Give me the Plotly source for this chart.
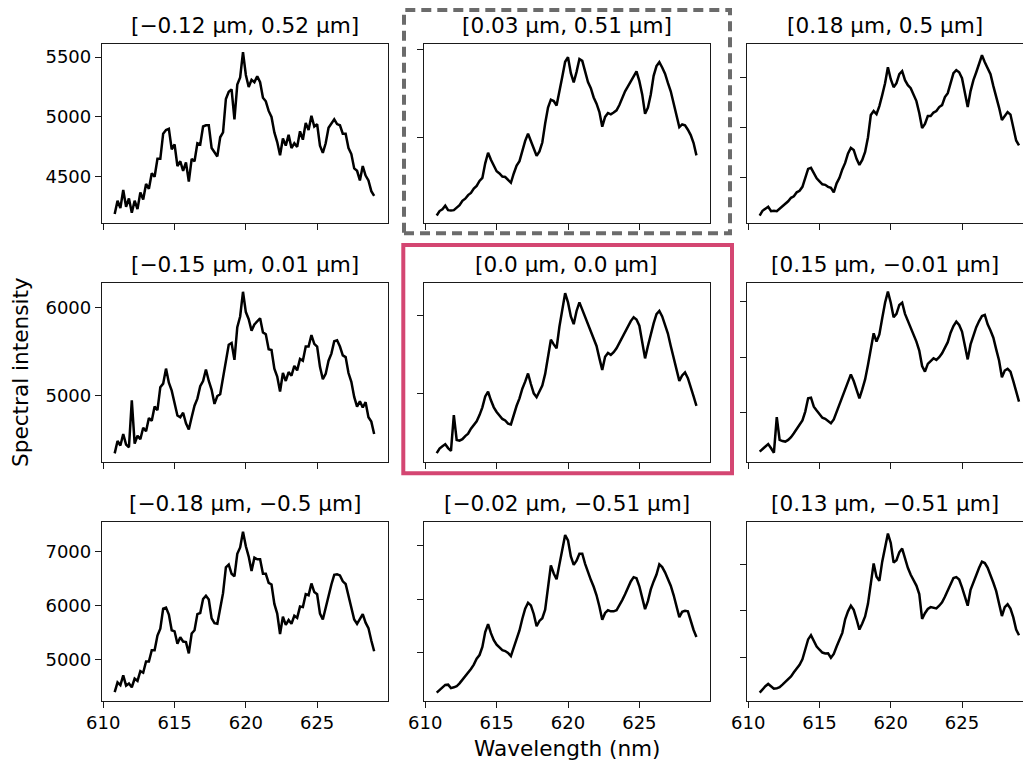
import plotly.graph_objects as go

# ---------------- data ----------------
WAVELENGTH = [
    610.8,
    611.0, 611.2, 611.4, 611.6, 611.8,
    612.0, 612.2, 612.4, 612.6, 612.8,
    613.0, 613.2, 613.4, 613.6, 613.8,
    614.0, 614.2, 614.4, 614.6, 614.8,
    615.0, 615.2, 615.4, 615.6, 615.8,
    616.0, 616.2, 616.4, 616.6, 616.8,
    617.0, 617.2, 617.4, 617.6, 617.8,
    618.0, 618.2, 618.4, 618.6, 618.8,
    619.0, 619.2, 619.4, 619.6, 619.8,
    620.0, 620.2, 620.4, 620.6, 620.8,
    621.0, 621.2, 621.4, 621.6, 621.8,
    622.0, 622.2, 622.4, 622.6, 622.8,
    623.0, 623.2, 623.4, 623.6, 623.8,
    624.0, 624.2, 624.4, 624.6, 624.8,
    625.0, 625.2, 625.4, 625.6, 625.8,
    626.0, 626.2, 626.4, 626.6, 626.8,
    627.0, 627.2, 627.4, 627.6, 627.8,
    628.0, 628.2, 628.4, 628.6, 628.8,
    629.0,
]

SPEC_R1C1 = [
    4190,
    4300, 4240, 4390, 4250, 4320,
    4200, 4300, 4230, 4370, 4310,
    4440, 4400, 4530, 4500, 4650,
    4650, 4860, 4890, 4900, 4730,
    4770, 4590, 4630, 4550, 4620,
    4460, 4650, 4630, 4780, 4770,
    4920, 4930, 4930, 4740, 4710,
    4670, 4830, 4870, 5150, 5210,
    5230, 4980, 5270, 5330, 5540,
    5350, 5250, 5310, 5290, 5340,
    5290, 5160, 5130, 5050, 5000,
    4870, 4790, 4680, 4820, 4760,
    4850, 4740, 4780, 4750, 4880,
    4810, 4950, 4890, 5010, 4920,
    4940, 4760, 4700, 4780, 4910,
    4950, 4980, 4940, 4930, 4860,
    4860, 4740, 4690, 4570, 4550,
    4470, 4590, 4510, 4470, 4380,
    4340,
]

SPEC_R1C2 = [
    4120,
    4170, 4190, 4230, 4180, 4175,
    4180, 4205, 4235, 4285, 4310,
    4350, 4375, 4425, 4455, 4510,
    4545, 4710, 4830, 4750, 4680,
    4620, 4595, 4560, 4555, 4525,
    4490, 4595, 4685, 4735, 4855,
    4965, 5045, 4955, 4860, 4795,
    4845, 4945, 5160, 5340, 5430,
    5415, 5365, 5550, 5690, 5860,
    5910, 5730, 5625, 5745, 5890,
    5870, 5735, 5630, 5560, 5455,
    5385, 5290, 5125, 5235, 5280,
    5265, 5285, 5310, 5370, 5460,
    5525, 5580, 5640, 5690, 5750,
    5640, 5490, 5270, 5340, 5490,
    5700, 5810, 5855, 5795, 5725,
    5620, 5525, 5390, 5265, 5120,
    5150, 5140, 5090, 5030, 4940,
    4800,
]

SPEC_R1C3 = [
    4615,
    4665, 4685, 4705, 4660, 4665,
    4660, 4685, 4705, 4740, 4760,
    4795, 4810, 4850, 4865, 4905,
    4995, 5085, 5095, 5045, 4990,
    4960, 4930, 4925, 4905, 4895,
    4850, 4940, 4995, 5080, 5145,
    5240, 5295, 5275, 5185, 5125,
    5175, 5255, 5400, 5625, 5665,
    5635, 5715, 5825, 5945, 6105,
    5985, 5905, 5945, 6035, 6065,
    5975, 5925, 5895, 5825, 5765,
    5645, 5495, 5535, 5615, 5615,
    5650, 5665, 5705, 5725, 5805,
    5845, 5955, 6045, 6075, 6055,
    5995, 5855, 5705, 5865, 5975,
    6055, 6130, 6225, 6155, 6095,
    6035, 5915, 5815, 5700, 5575,
    5615, 5655, 5630, 5515, 5370,
    5320,
]

SPEC_R2C1 = [
    4350,
    4490, 4440, 4570, 4450, 4420,
    4950, 4460, 4550, 4510, 4640,
    4600, 4750, 4720, 4880, 4840,
    5100, 5140, 5310, 5150, 5060,
    4920, 4780, 4760, 4810, 4690,
    4620, 4760, 4890, 4970, 5110,
    5170, 5300, 5170, 5070, 4910,
    5000, 5020, 5220, 5390, 5580,
    5600, 5410, 5780, 5900, 6180,
    5950, 5870, 5740, 5810, 5840,
    5880, 5720, 5700, 5530, 5520,
    5310, 5220, 5050, 5260, 5170,
    5270, 5230, 5340, 5290, 5420,
    5400, 5560, 5560, 5690, 5590,
    5560, 5330, 5190, 5250, 5400,
    5480, 5620, 5630, 5560, 5460,
    5440, 5260, 5160, 4990, 4880,
    4940, 4870, 4930, 4760, 4710,
    4570,
]

SPEC_R2C2 = [
    4230,
    4290, 4320, 4345, 4295, 4260,
    4720, 4400, 4390, 4410, 4450,
    4480, 4545, 4600, 4640, 4720,
    4820, 4960, 5020, 4910, 4820,
    4760, 4710, 4670, 4650, 4610,
    4600, 4730, 4840, 4935, 5060,
    5150, 5255, 5120, 5000, 4950,
    5020, 5100, 5250, 5450, 5690,
    5630, 5580, 5860, 6050, 6290,
    6170, 5990, 5890, 6060, 6170,
    6080, 5970, 5880, 5790, 5710,
    5610, 5450, 5300, 5470, 5520,
    5495, 5530, 5580, 5650, 5730,
    5790, 5860, 5930, 5980, 5950,
    5870, 5670, 5450, 5610, 5770,
    5900, 6020, 6060, 5990, 5880,
    5770, 5610, 5450, 5310, 5160,
    5230, 5270, 5195, 5090, 4960,
    4840,
]

SPEC_R2C3 = [
    4650,
    4675, 4700, 4718, 4680, 4640,
    4960, 4755, 4745, 4740, 4755,
    4780, 4815, 4850, 4885, 4930,
    5010, 5130, 5135, 5054, 5020,
    4985, 4955, 4945, 4925, 4905,
    4940, 5010, 5075, 5140, 5210,
    5290, 5345, 5285, 5200, 5130,
    5210, 5300, 5430, 5570, 5715,
    5640, 5705, 5850, 5990, 6090,
    5990, 5860, 5890, 5970, 5990,
    5890, 5830, 5770, 5710, 5640,
    5560, 5420, 5370, 5440, 5465,
    5490, 5475, 5500, 5535, 5580,
    5635, 5720, 5780, 5820, 5790,
    5730, 5595, 5480, 5615, 5700,
    5770, 5825, 5870, 5880, 5795,
    5740, 5675, 5570, 5470, 5320,
    5380, 5395, 5370, 5285, 5180,
    5100,
]

SPEC_R3C1 = [
    4390,
    4570, 4520, 4700, 4510, 4550,
    4480, 4640, 4600, 4780, 4750,
    4960, 4960, 5170, 5170, 5440,
    5570, 5940, 5960, 5830, 5540,
    5520, 5290, 5410, 5330, 5320,
    5110, 5480, 5540, 5840, 5860,
    6120, 6180, 6110, 5760, 5670,
    5660, 5960, 6230, 6710, 6760,
    6590, 6540, 6960, 7080, 7370,
    7100, 6910, 6640, 6890, 6860,
    6860, 6590, 6590, 6420, 6390,
    6030, 5850, 5470, 5790, 5640,
    5730, 5660, 5810, 5770, 5980,
    5970, 6210, 6190, 6410, 6250,
    6210, 5850, 5740, 5960, 6220,
    6390, 6570, 6580, 6560, 6450,
    6400, 6170, 6000, 5740, 5660,
    5740, 5840, 5680, 5580, 5350,
    5150,
]

SPEC_R3C2 = [
    4245,
    4300, 4335, 4390, 4395, 4330,
    4345, 4365, 4420, 4485, 4555,
    4620, 4690, 4770, 4880, 4950,
    5100, 5380, 5530, 5360, 5230,
    5145, 5090, 5040, 5025, 4990,
    4930, 5090, 5240, 5410, 5630,
    5820, 5930, 5880, 5720, 5490,
    5590, 5640, 5800, 6250, 6630,
    6480, 6370, 6650, 6900, 7200,
    7100, 6800, 6640, 6720, 6850,
    6850, 6660, 6490, 6360, 6230,
    6070, 5860, 5610, 5740, 5790,
    5770, 5770, 5790, 5880, 5980,
    6090, 6210, 6330, 6410, 6390,
    6240, 6040, 5810, 5960, 6180,
    6330, 6460, 6650, 6600, 6500,
    6390, 6250, 6075, 5880, 5660,
    5760, 5780, 5770, 5590, 5420,
    5290,
]

SPEC_R3C3 = [
    4255,
    4330, 4390, 4440, 4390, 4340,
    4345, 4370, 4425, 4480, 4525,
    4600, 4690, 4770, 4850, 4965,
    5180, 5390, 5480, 5340, 5240,
    5170, 5110, 5090, 5095, 5000,
    5080, 5240, 5380, 5530, 5820,
    5990, 6110, 6020, 5820, 5600,
    5730, 5880, 6150, 6640, 7010,
    6730, 6640, 7050, 7350, 7650,
    7450, 7030, 7080, 7250, 7330,
    7110, 6920, 6770, 6660, 6540,
    6360, 5830, 5950, 6040, 6080,
    6070, 6053, 6110, 6180, 6300,
    6440, 6560, 6700, 6720, 6670,
    6500, 6300, 6110, 6450, 6620,
    6760, 6920, 7050, 7020, 6920,
    6770, 6600, 6420, 6180, 5890,
    6080, 6140, 6050, 5860, 5600,
    5480,
]

TITLES = [
    "[\u22120.12 \u00b5m, 0.52 \u00b5m]", "[0.03 \u00b5m, 0.51 \u00b5m]", "[0.18 \u00b5m, 0.5 \u00b5m]",
    "[\u22120.15 \u00b5m, 0.01 \u00b5m]", "[0.0 \u00b5m, 0.0 \u00b5m]", "[0.15 \u00b5m, \u22120.01 \u00b5m]",
    "[\u22120.18 \u00b5m, \u22120.5 \u00b5m]", "[\u22120.02 \u00b5m, \u22120.51 \u00b5m]", "[0.13 \u00b5m, \u22120.51 \u00b5m]",
]

X_TICKS = [610, 615, 620, 625]

Y_TICKS = [
    [4500, 5000, 5500], [5000, 6000], [5000, 5500, 6000],
    [5000, 6000], [5000, 6000], [5000, 5500, 6000],
    [5000, 6000, 7000], [5000, 6000, 7000], [5000, 6000, 7000],
]

Y_RANGES = [
    [4117, 5606], [4038, 6057], [4545, 6335],
    [4256, 6276], [4120, 6416], [4559, 6165],
    [4230, 7558], [4094, 7450], [4082, 7903],
]

SPECTRA = [SPEC_R1C1, SPEC_R1C2, SPEC_R1C3,
           SPEC_R2C1, SPEC_R2C2, SPEC_R2C3,
           SPEC_R3C1, SPEC_R3C2, SPEC_R3C3]

# ---------------- layout geometry (pixels of a 1023 x 766 page) ----------------
W, H = 1023, 766
COL_PX = [(102.0, 387.7), (424.0, 710.0), (746.7, 1023.0)]
ROW_PX = [(44.3, 222.7), (283.3, 461.7), (521.7, 700.7)]
X_RANGES = [[609.91, 629.95], [609.91, 629.95], [609.89, 629.28]]

FONT = "DejaVu Sans"
TICK_FS = 18
TITLE_FS = 21.6
AX_COLOR = "#1a1a1a"

fig = go.Figure()
layout = dict(
    template="none",
    width=W, height=H,
    margin=dict(l=0, r=0, t=0, b=0, pad=0),
    paper_bgcolor="white", plot_bgcolor="white",
    showlegend=False,
    font=dict(family=FONT, size=TICK_FS, color="black"),
)
annotations = []

for k in range(9):
    r, c = divmod(k, 3)
    n = k + 1
    xa = "x" if n == 1 else f"x{n}"
    ya = "y" if n == 1 else f"y{n}"
    fig.add_trace(go.Scatter(
        x=WAVELENGTH, y=SPECTRA[k], mode="lines",
        line=dict(color="black", width=2.5),
        xaxis=xa, yaxis=ya, hoverinfo="skip",
    ))
    x0, x1 = COL_PX[c]
    top, bot = ROW_PX[r]
    xdom = [x0 / W, x1 / W]
    ydom = [1 - bot / H, 1 - top / H]
    layout["xaxis" if n == 1 else f"xaxis{n}"] = dict(
        domain=xdom, anchor=ya, range=X_RANGES[c], automargin=False,
        tickmode="array", tickvals=X_TICKS,
        showticklabels=(r == 2),
        ticks="outside", ticklen=6, tickwidth=1.3, tickcolor=AX_COLOR,
        showline=True, linecolor=AX_COLOR, linewidth=1.3, mirror=True,
        showgrid=False, zeroline=False,
        tickfont=dict(family=FONT, size=TICK_FS, color="black"),
    )
    layout["yaxis" if n == 1 else f"yaxis{n}"] = dict(
        domain=ydom, anchor=xa, range=Y_RANGES[k], automargin=False,
        tickmode="array", tickvals=Y_TICKS[k],
        showticklabels=(c == 0),
        ticks="outside", ticklen=6, tickwidth=1.3, tickcolor=AX_COLOR,
        showline=True, linecolor=AX_COLOR, linewidth=1.3, mirror=(c != 2),
        showgrid=False, zeroline=False,
        tickfont=dict(family=FONT, size=TICK_FS, color="black"),
    )
    annotations.append(dict(
        text=TITLES[k], xref="paper", yref="paper",
        x=(x0 + min(x1, x0 + 285.8)) / 2 / W, y=1 - top / H,
        xanchor="center", yanchor="bottom", yshift=4, showarrow=False,
        font=dict(family=FONT, size=TITLE_FS, color="black"),
    ))

annotations.append(dict(
    text="Spectral intensity", xref="paper", yref="paper",
    x=20 / W, y=1 - 372 / H, xanchor="center", yanchor="middle",
    textangle=-90, showarrow=False,
    font=dict(family=FONT, size=TITLE_FS, color="black"),
))
annotations.append(dict(
    text="Wavelength (nm)", xref="paper", yref="paper",
    x=567 / W, y=1 - 748 / H, xanchor="center", yanchor="middle",
    showarrow=False,
    font=dict(family=FONT, size=TITLE_FS, color="black"),
))

shapes = [
    dict(type="rect", xref="paper", yref="paper",
         x0=404 / W, x1=730 / W, y0=1 - 233.3 / H, y1=1 - 10 / H,
         line=dict(color="#6b6b6b", width=4, dash="10px,6px"),
         fillcolor="rgba(0,0,0,0)", layer="above"),
    dict(type="rect", xref="paper", yref="paper",
         x0=403.3 / W, x1=732 / W, y0=1 - 473.3 / H, y1=1 - 245 / H,
         line=dict(color="#d44672", width=4),
         fillcolor="rgba(0,0,0,0)", layer="above"),
]

layout["annotations"] = annotations
layout["shapes"] = shapes
fig.update_layout(**layout)

fig.write_html("out.html")
